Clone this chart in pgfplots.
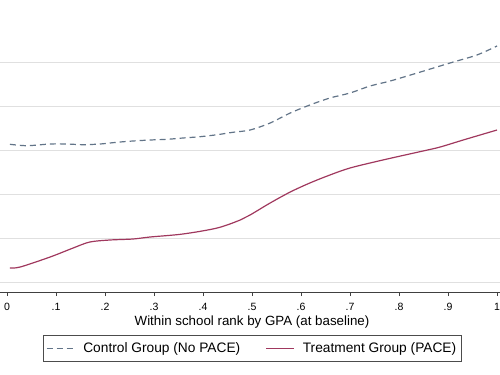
\documentclass[border=0pt]{standalone}
\usepackage{fontspec}
\setmainfont{Liberation Sans}
\usepackage{pgfplots}
\pgfplotsset{compat=1.18}
\definecolor{ctrl}{RGB}{98,116,136}
\definecolor{treat}{RGB}{160,56,94}
\begin{document}
\begin{tikzpicture}
\useasboundingbox (0,0) rectangle (375pt,-281.25pt);
\begin{axis}[
  at={(0,0)}, anchor=north west,
  width=375pt, height=219pt, scale only axis,
  xmin=-0.0143, xmax=1.0061, ymin=0, ymax=292,
  separate axis lines,
  axis x line*=bottom, axis y line*=left,
  y axis line style={draw=none},
  x axis line style={black!75, line width=0.6pt},
  xtick={0,0.1,0.2,0.3,0.4,0.5,0.6,0.7,0.8,0.9,1},
  xticklabels={0,.1,.2,.3,.4,.5,.6,.7,.8,.9,1},
  tick align=outside,
  xtick style={black!75, line width=0.6pt},
  major tick length=3pt,
  ytick={9.5,53.5,97.5,141.5,185.5,229.5},
  yticklabels={},
  ytick style={draw=none},
  ymajorgrids,
  grid style={black!12, line width=0.5pt},
  xticklabel style={font=\fontsize{7.9}{9}\selectfont, yshift=-2pt},
  xlabel={Within school rank by GPA (at baseline)},
  xlabel style={at={(axis description cs:0.504,0)}, anchor=center, yshift=-22.5pt, font=\fontsize{10}{12}\selectfont},
  legend columns=2,
  legend style={at={(0.505,-0.1935)}, anchor=center, draw=black!70, line width=0.6pt,
    font=\fontsize{10.3}{12}\selectfont, inner ysep=3pt, inner xsep=2pt,
    /tikz/every odd column/.append style={column sep=4pt},
    /tikz/every even column/.append style={column sep=17pt}},
  legend image code/.code={\draw[#1] (0pt,0pt) -- (21pt,0pt);},
]
\addplot[ctrl, line width=0.9pt, dash pattern=on 4.5pt off 3pt, smooth] coordinates {
(0.006,147.7) (0.041,146.3) (0.088,148) (0.122,148) (0.155,147.3) (0.190,148)
(0.224,149.7) (0.257,151) (0.292,152) (0.327,152.7) (0.359,154) (0.394,155.3)
(0.429,157.3) (0.461,159.7) (0.496,162) (0.537,169) (0.578,179) (0.618,187)
(0.659,194) (0.700,199) (0.741,206) (0.782,211) (0.837,219) (0.904,229)
(0.959,237) (1.0,246)
};
\addlegendentry{Control Group (No PACE)}
\addplot[treat, line width=0.9pt, smooth] coordinates {
(0.006,24) (0.027,25) (0.088,35) (0.135,44) (0.169,50) (0.210,52) (0.257,53)
(0.292,55) (0.359,58) (0.429,64) (0.476,72) (0.496,77) (0.537,89) (0.578,100)
(0.618,109) (0.659,117) (0.700,124) (0.767,132) (0.849,141) (0.884,145)
(0.931,152) (1.0,162)
};
\addlegendentry{Treatment Group (PACE)}
\end{axis}
\end{tikzpicture}
\end{document}
